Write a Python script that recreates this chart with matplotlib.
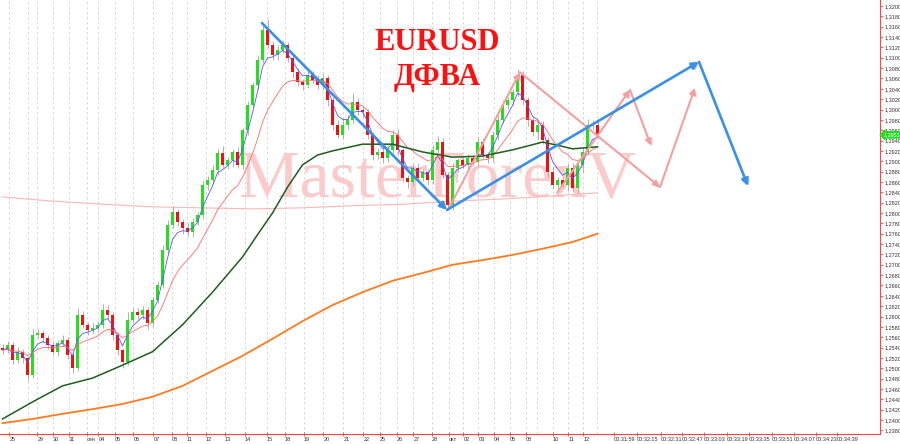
import numpy as np
import pandas as pd
import matplotlib
matplotlib.use("Agg")
import matplotlib.pyplot as plt
import matplotlib.patheffects as pe
from matplotlib.patches import FancyArrowPatch
from matplotlib.transforms import blended_transform_factory

# ---------------- data ----------------
first_open = 1.2540
close = [
    1.2535, 1.2545, 1.2516, 1.2532, 1.2520, 1.2487, 1.2564, 1.2568, 1.2559, 1.2545,
    1.2532, 1.2549, 1.2555, 1.2526, 1.2501, 1.2603, 1.2584, 1.2574, 1.2578, 1.2584,
    1.2613, 1.2603, 1.2564, 1.2535, 1.2512, 1.2593, 1.2609, 1.2603, 1.2613, 1.2588,
    1.2632, 1.2661, 1.2729, 1.2777, 1.2802, 1.2783, 1.2771, 1.2763, 1.2783, 1.2796,
    1.2854, 1.2864, 1.2883, 1.2916, 1.2893, 1.2902, 1.2918, 1.2893, 1.2960, 1.3009,
    1.3047, 1.3096, 1.3154, 1.3125, 1.3105, 1.3115, 1.3125, 1.3100, 1.3072, 1.3053,
    1.3047, 1.3067, 1.3057, 1.3047, 1.3061, 1.3018, 1.2970, 1.2951, 1.2970, 1.2980,
    1.3015, 1.2999, 1.2995, 1.2951, 1.2912, 1.2918, 1.2906, 1.2922, 1.2951, 1.2922,
    1.2868, 1.2860, 1.2887, 1.2868, 1.2879, 1.2864, 1.2922, 1.2937, 1.2874, 1.2816,
    1.2887, 1.2902, 1.2893, 1.2906, 1.2899, 1.2937, 1.2912, 1.2906, 1.2951, 1.2980,
    1.3009, 1.3018, 1.3034, 1.3067, 1.3018, 1.2980, 1.2957, 1.2970, 1.2941, 1.2879,
    1.2854, 1.2864, 1.2854, 1.2887, 1.2848, 1.2893, 1.2918, 1.2970, 1.2970, 1.2951,
]
up_wick_pips = [
    6, 8, 5, 10, 6, 4, 12, 8, 6, 5, 7, 5, 9, 6, 4, 14, 8, 6, 10, 7,
    12, 9, 5, 6, 4, 15, 10, 8, 7, 5, 6, 8, 9, 10, 12, 6, 5, 10, 8, 6,
    9, 7, 10, 8, 14, 7, 6, 9, 5, 8, 7, 10, 12, 20, 8, 10, 9, 6, 5, 8,
    6, 10, 7, 9, 8, 5, 6, 10, 14, 9, 16, 8, 7, 6, 5, 8, 10, 7, 9, 12,
    6, 5, 8, 9, 6, 7, 10, 12, 8, 6, 9, 5, 7, 8, 6, 10, 7, 6, 8, 9,
    10, 7, 6, 12, 8, 6, 5, 10, 7, 6, 9, 6, 7, 8, 10, 6, 9, 12, 10, 7,
]
dn_wick_pips = [
    7, 5, 8, 6, 9, 12, 5, 6, 8, 7, 6, 9, 5, 8, 10, 6, 7, 9, 5, 8,
    6, 7, 10, 9, 11, 6, 5, 8, 7, 12, 8, 6, 5, 7, 6, 9, 12, 8, 10, 6,
    7, 9, 6, 10, 5, 8, 14, 6, 7, 9, 5, 8, 6, 7, 10, 9, 6, 8, 12, 7,
    9, 6, 8, 7, 10, 12, 9, 6, 8, 7, 6, 9, 11, 8, 10, 7, 9, 8, 6, 10,
    8, 12, 7, 9, 6, 10, 8, 7, 6, 9, 10, 8, 6, 9, 7, 8, 6, 10, 7, 9,
    6, 8, 10, 7, 9, 12, 8, 14, 7, 9, 8, 10, 6, 12, 7, 9, 14, 6, 8, 7,
]

# long moving averages (candle index, price)
green_idx = [0, 6, 12, 18, 24, 30, 36, 42, 48, 51, 54, 57, 60, 63, 66, 72, 78, 84, 90, 96,
             102, 108, 111, 114, 119]
ma_green = [1.2402, 1.2435, 1.2466, 1.2481, 1.2506, 1.2532, 1.2584, 1.2647, 1.2715, 1.2758,
            1.2800, 1.2850, 1.2893, 1.2912, 1.2920, 1.2933, 1.2933, 1.2918, 1.2908, 1.2910,
            1.2922, 1.2937, 1.2931, 1.2924, 1.2928]
orange_idx = [0, 6, 12, 18, 24, 30, 36, 42, 48, 54, 60, 66, 72, 78, 84, 90, 96, 102, 108, 114, 119]
ma_orange = [1.2394, 1.2402, 1.2412, 1.2421, 1.2431, 1.2445, 1.2466, 1.2495, 1.2524, 1.2557,
             1.2591, 1.2622, 1.2647, 1.2669, 1.2684, 1.2700, 1.2709, 1.2719, 1.2731, 1.2744, 1.2760]
pink_idx = [0, 10, 20, 30, 40, 50, 60, 70, 80, 90, 100, 110, 119]
ma_pink = [1.2831, 1.2823, 1.2817, 1.2812, 1.2810, 1.2808, 1.2810, 1.2814, 1.2817,
           1.2823, 1.2827, 1.2833, 1.2839]

# analyst's forecast arrows: (x0, p0, x1, p1) in candle index / price
blue_arrows = [(51.9, 1.3167, 88.9, 1.2806), (88.9, 1.2806, 139.3, 1.3092), (139.3, 1.3092, 149.1, 1.2852)]
pink_arrows = [(89.1, 1.2806, 103.5, 1.3072), (103.5, 1.3072, 131.5, 1.2850), (131.5, 1.2850, 138.5, 1.3042),
               (110.9, 1.2839, 125.5, 1.3038), (125.5, 1.3038, 129.7, 1.2930)]

# x-axis ticks (candle index) and labels
date_ticks = [1.36, 6.96, 10.04, 13.3, 16.84, 19.16, 22.5, 26.16, 30.16, 33.84, 36.84, 40.7, 44.5,
              48.5, 52.84, 56.5, 60.3, 64.16, 68.16, 72.16, 75.5, 78.84, 82.16, 85.84, 89.3, 92.16,
              95.16, 98.3, 101.5, 104.64, 110.04, 113.16, 116.16]
date_labels = ["25", "29", "30", "31", "сен", "04", "05", "06", "07", "08", "11", "12", "13", "14",
               "15", "18", "19", "20", "21", "22", "25", "26", "27", "28", "окт", "02", "03", "04",
               "05", "08", "10", "11", "12"]
extra_grid = [5.1, 106.9, 118.84]
time_ticks = [122.3, 126.9, 131.7, 135.9, 140.3, 144.9, 149.3, 153.9, 158.3, 162.7, 166.9]
time_labels = ["00:31:59", "00:32:15", "00:32:31", "00:32:47", "00:33:03", "00:33:19",
               "00:33:35", "00:33:51", "00:34:07", "00:34:23", "00:34:39"]
last_price_label = "1,2951"

# ---------------- figure ----------------
W, H = 900, 444
fig = plt.figure(figsize=(W / 100, H / 100), dpi=100)
fig.patch.set_facecolor("white")
ax = fig.add_axes([0, 10 / H, 880 / W, 434 / H])
ax.set_facecolor("white")
ax.set_xlim(-0.5, 175.5)
ax.set_ylim(1.2373, 1.32116)

c = np.array(close)
o = np.concatenate([[first_open], c[:-1]])
hi = np.maximum(o, c) + np.array(up_wick_pips) * 0.0001
lo = np.minimum(o, c) - np.array(dn_wick_pips) * 0.0001
x = np.arange(len(c))

# grid lines
for gx in date_ticks + extra_grid:
    ax.axvline(gx, color="#d2d2d2", lw=0.6, ls=(0, (3, 3)), zorder=0.3)

# watermark
ax.text(0.497, 0.585, "MasterForexV", transform=ax.transAxes, ha="center", va="center",
        fontsize=49, family="Liberation Serif", color="#fbcaca", zorder=0.5)

# long MAs
ax.plot(pink_idx, ma_pink, color="#ffb6b6", lw=0.8, zorder=1)
ax.plot(orange_idx, ma_orange, color="#ff7a1f", lw=1.3, zorder=1)

# candles
ax.vlines(x, lo, hi, color="#b0b0b0", lw=0.7, zorder=2)
up = c >= o
body_bot = np.minimum(o, c)
body_h = np.maximum(np.abs(c - o), 0.00008)
ax.bar(x[up], body_h[up], bottom=body_bot[up], width=0.7, color="#22e01a", lw=0, zorder=3)
ax.bar(x[~up], body_h[~up], bottom=body_bot[~up], width=0.7, color="#ee1111", lw=0, zorder=3)

# short MAs
s = pd.Series(c)
ax.plot(x, s.ewm(span=4, adjust=False).mean(), color="#5555ff", lw=0.6, zorder=4)
ax.plot(x, s.ewm(span=12, adjust=False).mean(), color="#ff6a6a", lw=0.6, zorder=4)
ax.plot(green_idx, ma_green, color="#1d5e1d", lw=1.1, zorder=4)

# arrows
def draw_arrow(seg, color, lw, ms):
    a = FancyArrowPatch((seg[0], seg[1]), (seg[2], seg[3]), arrowstyle="-|>", mutation_scale=ms,
                        lw=lw, color=color, shrinkA=0, shrinkB=0, zorder=6,
                        path_effects=[pe.SimplePatchShadow(offset=(1.5, -1.5), shadow_rgbFace="#888888",
                                                           alpha=0.35), pe.Normal()])
    ax.add_patch(a)

for seg in pink_arrows:
    draw_arrow(seg, "#f4a0a0", 1.5, 9)
for seg in blue_arrows:
    draw_arrow(seg, "#3a8fe8", 1.9, 10)

# titles
fig.text(437 / W, 1 - 43 / H, "EURUSD", ha="center", va="center", fontsize=22, fontweight="bold",
         family="Liberation Serif", color="#ff1010", zorder=7)
fig.text(437 / W, 1 - 78 / H, "ДФВА", ha="center", va="center", fontsize=22, fontweight="bold",
         family="Liberation Serif", color="#ff1010", zorder=7)

# axes styling
for side in ["top", "left"]:
    ax.spines[side].set_visible(False)
for side in ["bottom", "right"]:
    ax.spines[side].set_color("#ff4444")
    ax.spines[side].set_linewidth(0.8)

ax.yaxis.tick_right()
yt = np.round(np.arange(1.2380, 1.32001, 0.002), 4)
ax.set_yticks(yt)
ax.set_yticklabels([f"{v:.4f}".replace(".", ",") for v in yt], family="Liberation Sans")
ax.tick_params(axis="y", direction="out", length=2, width=0.6, color="#ff4444", labelsize=4,
               labelcolor="#333333", pad=1)

ax.set_xticks(date_ticks + time_ticks)
ax.set_xticklabels(date_labels + time_labels, family="Liberation Sans")
ax.tick_params(axis="x", direction="inout", length=3, width=0.6, color="#ff4444", labelsize=4,
               labelcolor="#333333", pad=0.5)
for lab in ax.get_xticklabels():
    lab.set_horizontalalignment("left")

# last price tag on the axis
tr = blended_transform_factory(ax.transAxes, ax.transData)
ax.text(1.004, c[-1], last_price_label, transform=tr, ha="left", va="center", fontsize=4,
        family="Liberation Sans", color="white", clip_on=False, zorder=8,
        bbox=dict(boxstyle="larrow,pad=0.12", fc="#22dd22", ec="#22dd22"))

fig.savefig("out.png", dpi=100, facecolor="white")
